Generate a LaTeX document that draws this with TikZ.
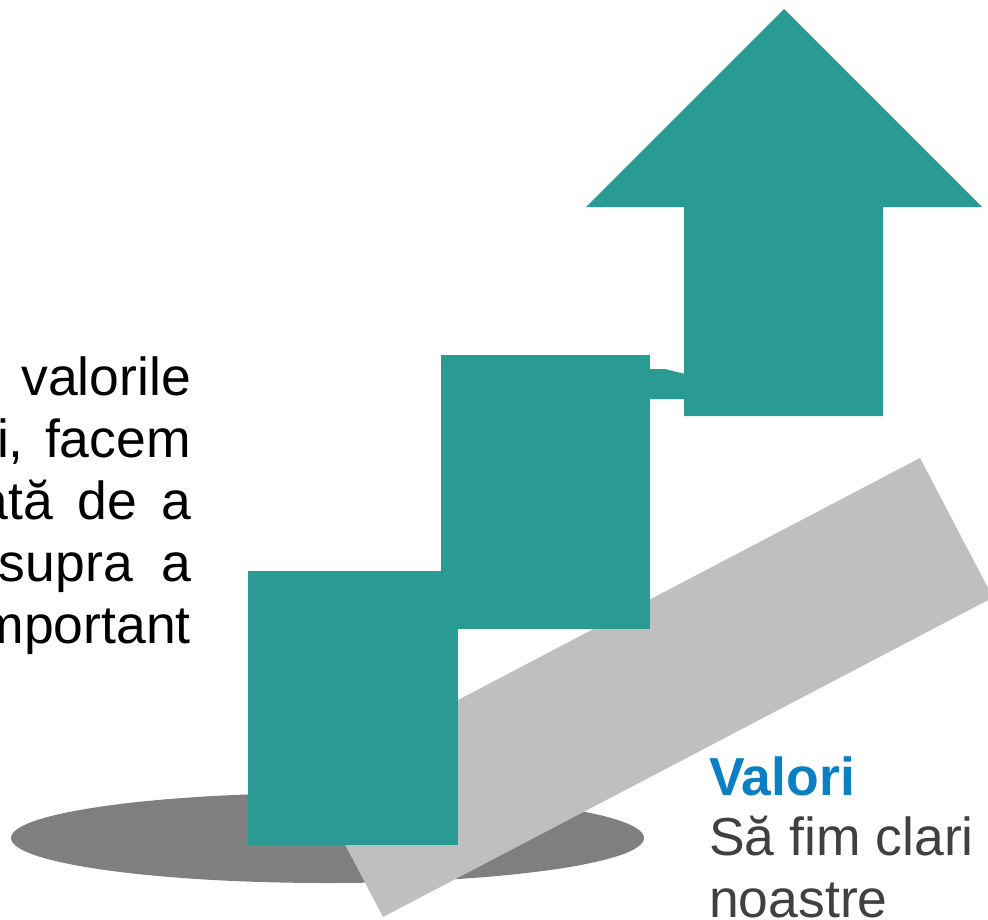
\documentclass[tikz,border=0pt]{standalone}
\usepackage{fontspec}
\setmainfont{Liberation Sans}
\definecolor{teal1}{RGB}{42,155,146}
\definecolor{bargray}{RGB}{191,191,191}
\definecolor{shadowgray}{RGB}{127,127,127}
\definecolor{valblue}{RGB}{11,127,196}
\definecolor{darktext}{RGB}{64,64,64}
\tikzset{
  stepfill/.style={fill=teal1, draw=none},
  bodytext/.style={anchor=base east, inner sep=0pt, font=\fontsize{53.5}{62}\selectfont, text=black},
  righttext/.style={anchor=base west, inner sep=0pt, font=\fontsize{53.5}{62}\selectfont, text=darktext},
}
\begin{document}
\begin{tikzpicture}[x=1pt,y=-1pt]
\useasboundingbox (0,0) rectangle (988,919);
\begin{scope}
\clip (0,0) rectangle (988,919);
% shadow ellipse
\fill[shadowgray] (327.5,838) ellipse [x radius=316.5, y radius=45];
% tilted bar
\fill[bargray] (383,917) -- (310,777.5) -- (920,458) -- (993,597.5) -- cycle;
% steps
\fill[stepfill] (248,571) rectangle (458,845);
\fill[stepfill] (441,355) rectangle (650,629);
\fill[stepfill] (649,369) -- (665,369) -- (685,374) -- (685,399) -- (649,399) -- cycle;
\fill[stepfill] (684,416) -- (684,207) -- (586,207) -- (784,9) -- (982,207) -- (883,207) -- (883,416) -- cycle;
% left text
\node[bodytext] (l1) at (191,395) {valorile};
\node[bodytext] (l2a) at (24,457) {i,};
\node[bodytext] (l2b) at (191,457) {facem};
\node[bodytext] (l3) at (191,519) {\makebox[212pt][s]{ată de a}};
\node[bodytext] (l4a) at (133,581) {\makebox[136pt][r]{supra}};
\node[bodytext] (l4b) at (191,581) {a};
\node[bodytext] (l5) at (191,643) {mportant};
% right text
\node[righttext, text=valblue, font=\fontsize{53.5}{62}\selectfont\bfseries] (t1) at (709,795) {Valori};
\node[righttext] (t2) at (709,855) {Să fim clari};
\node[righttext] (t3) at (709,917) {noastre};
\end{scope}
\end{tikzpicture}
\end{document}
